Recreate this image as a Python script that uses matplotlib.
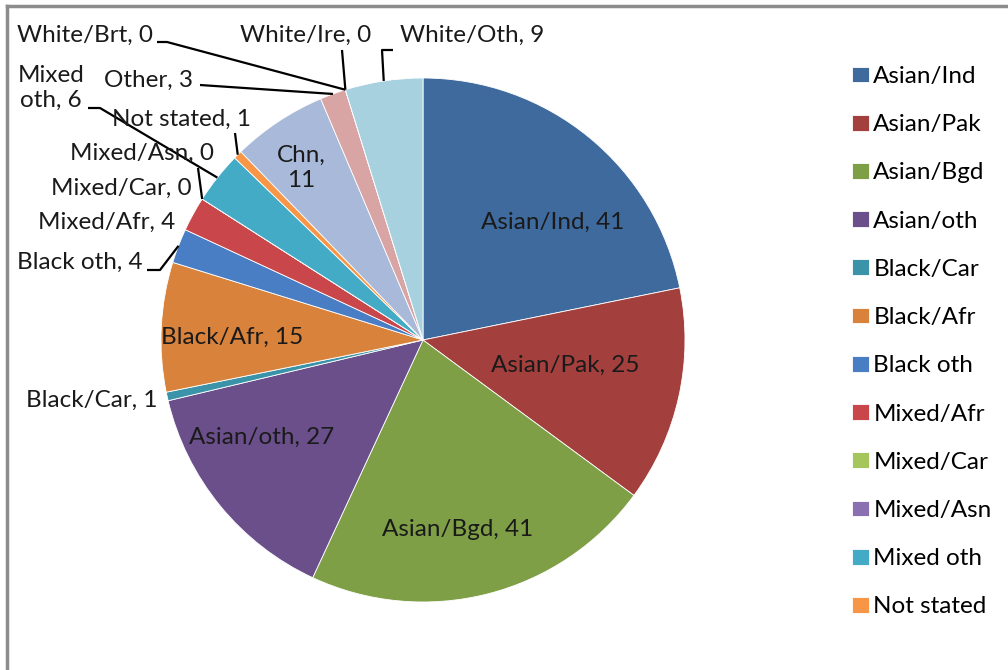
import numpy as np
import matplotlib.pyplot as plt
from matplotlib.lines import Line2D

plt.rcParams['font.family'] = ['Lato', 'DejaVu Sans']

names = ["Asian/Ind", "Asian/Pak", "Asian/Bgd", "Asian/oth", "Black/Car",
         "Black/Afr", "Black oth", "Mixed/Afr", "Mixed/Car", "Mixed/Asn",
         "Mixed oth", "Not stated", "Chn", "Other", "White/Brt",
         "White/Ire", "White/Oth"]
values = [41, 25, 41, 27, 1, 15, 4, 4, 0, 0, 6, 1, 11, 3, 0, 0, 9]
colors = ["#3F6A9E", "#A3403D", "#7F9F47", "#6A4F8B", "#3A93A9",
          "#D8823B", "#4A7EC4", "#C9464A", "#A5C65B", "#8A6FB1",
          "#43ABC6", "#F79646", "#A9B9DA", "#D9A4A4", "#C5D8A0",
          "#B7AACB", "#A7D1DF"]
n_legend = 12  # legend only lists the first 12 categories

# pie geometry in pixel space (y down)
cx, cy, R = 423, 340, 262
fs = 17.5

fig = plt.figure(figsize=(10.08, 6.70), dpi=100)
ax = fig.add_axes([0, 0, 1, 1])

wedges, _ = ax.pie(values, colors=colors, startangle=-90, counterclock=True,
                   center=(cx, cy), radius=R,
                   wedgeprops=dict(edgecolor="white", linewidth=0.6))
ax.set_xlim(0, 1008)
ax.set_ylim(670, 0)
ax.set_aspect("auto")
ax.axis("off")

# labels inside the big slices
inside = {
    "Asian/Ind": (553, 222),
    "Asian/Pak": (565, 365),
    "Asian/Bgd": (458, 530),
    "Asian/oth": (262, 437),
    "Black/Afr": (232, 337),
}
for name, (tx, ty) in inside.items():
    i = names.index(name)
    ax.text(tx, ty, f"{name}, {values[i]}", ha="center", va="center",
            fontsize=fs, color="#1a1a1a")

# outside labels: text position, alignment, leader start points
outside = {
    "White/Brt": ((85, 35), "center", [(157, 42), (167, 42)]),
    "White/Ire": ((306, 35), "center", [(342, 50)]),
    "White/Oth": ((400, 35), "left", [(393, 50), (382, 50)]),
    "Mixed oth": ((51, 88), "center", [(88, 108), (100, 108)]),
    "Other": ((148, 80), "center", [(200, 85)]),
    "Not stated": ((181, 119), "center", [(235, 133)]),
    "Mixed/Asn": ((142, 153), "center", None),
    "Mixed/Car": ((121, 188), "center", [(198, 168)]),
    "Mixed/Afr": ((107, 222), "center", None),
    "Black oth": ((80, 262), "center", [(147, 270), (160, 270)]),
    "Black/Car": ((157, 400), "right", None),
    "Chn": ((301, 168), "center", None),
}
for name, ((tx, ty), ha, pts) in outside.items():
    i = names.index(name)
    if name == "Mixed oth":
        txt = f"Mixed\noth, {values[i]}"
    elif name == "Chn":
        txt = f"{name},\n{values[i]}"
    else:
        txt = f"{name}, {values[i]}"
    ax.text(tx, ty, txt, ha=ha, va="center", fontsize=fs, color="#1a1a1a",
            linespacing=1.25)
    if pts:
        w = wedges[i]
        mid = np.deg2rad((w.theta1 + w.theta2) / 2)
        ax_pt = (cx + R * np.cos(mid), cy + R * np.sin(mid))
        xs = [p[0] for p in pts] + [ax_pt[0]]
        ys = [p[1] for p in pts] + [ax_pt[1]]
        ax.plot(xs, ys, color="black", lw=1.6, solid_capstyle="butt")

# chart frame (top and left edges visible)
ax.add_line(Line2D([7, 1008], [6, 6], color="#8c8c8c", lw=2.5))
ax.add_line(Line2D([7, 7], [6, 670], color="#8c8c8c", lw=2.5))

ax.legend(wedges[:n_legend], names[:n_legend], loc="upper left",
          bbox_to_anchor=(852, 66), bbox_transform=ax.transData,
          frameon=False, fontsize=fs, handlelength=0.68, handleheight=0.62,
          handletextpad=0.2, labelspacing=1.12, borderpad=0,
          borderaxespad=0)

fig.savefig("out.png", dpi=100)
